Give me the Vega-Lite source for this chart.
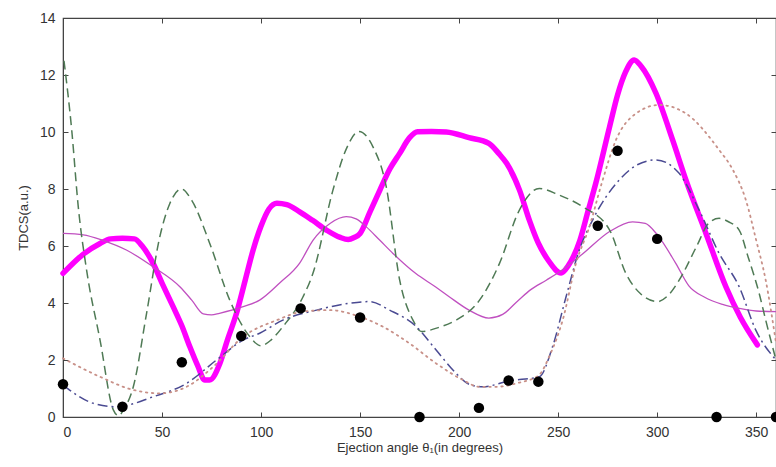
{
  "$schema": "https://vega.github.io/schema/vega-lite/v6.json",
  "width": 713,
  "height": 399,
  "autosize": "none",
  "padding": {"left": 63, "top": 18, "right": 0, "bottom": 50},
  "background": "white",
  "config": {
    "view": {"stroke": "#444", "strokeWidth": 1.2},
    "axis": {
      "grid": false,
      "domainColor": "#444",
      "tickColor": "#444",
      "labelColor": "#333",
      "titleColor": "#333",
      "labelFont": "Liberation Sans",
      "titleFont": "Liberation Sans",
      "labelFontSize": 14,
      "titleFontSize": 13,
      "titleFontWeight": "normal",
      "tickSize": -5
    }
  },
  "datasets": {
    "thick": [
      {"x":0,"y":5.04},{"x":10,"y":5.7},{"x":18.7,"y":6.09},{"x":24,"y":6.25},{"x":30,"y":6.27},{"x":36,"y":6.25},{"x":40,"y":6.0},{"x":45.5,"y":5.39},{"x":50,"y":4.7},{"x":55.6,"y":3.87},{"x":60,"y":3.2},{"x":64,"y":2.47},{"x":68,"y":1.8},{"x":71.6,"y":1.3},{"x":74,"y":1.3},{"x":79.2,"y":1.88},{"x":83,"y":2.7},{"x":87.6,"y":3.64},{"x":92,"y":4.8},{"x":96,"y":5.86},{"x":100,"y":6.7},{"x":104,"y":7.3},{"x":108,"y":7.5},{"x":113,"y":7.45},{"x":119.5,"y":7.2},{"x":126,"y":6.9},{"x":133,"y":6.56},{"x":140,"y":6.3},{"x":144,"y":6.23},{"x":147,"y":6.3},{"x":150,"y":6.44},{"x":155,"y":7.2},{"x":160,"y":7.96},{"x":165,"y":8.7},{"x":170,"y":9.25},{"x":175,"y":9.8},{"x":179,"y":10.01},{"x":186,"y":10.02},{"x":193.5,"y":10.0},{"x":205,"y":9.8},{"x":215,"y":9.6},{"x":220,"y":9.25},{"x":224,"y":8.9},{"x":230.5,"y":7.96},{"x":235.5,"y":6.9},{"x":240,"y":6.1},{"x":245,"y":5.5},{"x":251.5,"y":5.05},{"x":255,"y":5.3},{"x":261,"y":6.2},{"x":265,"y":7.2},{"x":269,"y":8.2},{"x":276,"y":10.19},{"x":280,"y":11.3},{"x":284,"y":12.1},{"x":288.4,"y":12.53},{"x":292,"y":12.3},{"x":299.4,"y":11.36},{"x":307.8,"y":9.72},{"x":314.5,"y":8.32},{"x":324.6,"y":6.45},{"x":334.7,"y":4.57},{"x":342,"y":3.5},{"x":350.6,"y":2.53}
    ],
    "thin": [
      {"x":0,"y":6.44},{"x":10.2,"y":6.39},{"x":20,"y":6.2},{"x":32,"y":5.86},{"x":45.5,"y":5.27},{"x":59,"y":4.57},{"x":65,"y":4.1},{"x":70.8,"y":3.62},{"x":75,"y":3.58},{"x":79,"y":3.64},{"x":91,"y":3.87},{"x":99.3,"y":4.1},{"x":109.4,"y":4.7},{"x":119.5,"y":5.4},{"x":126.2,"y":6.2},{"x":135,"y":6.8},{"x":143,"y":7.03},{"x":148,"y":6.95},{"x":153,"y":6.68},{"x":160,"y":6.2},{"x":166.6,"y":5.74},{"x":178,"y":5.04},{"x":188,"y":4.57},{"x":195,"y":4.22},{"x":205,"y":3.75},{"x":215,"y":3.47},{"x":222,"y":3.6},{"x":230,"y":4.1},{"x":236,"y":4.46},{"x":244,"y":4.8},{"x":252,"y":5.16},{"x":262,"y":5.7},{"x":275.8,"y":6.5},{"x":287.6,"y":6.85},{"x":294,"y":6.79},{"x":300,"y":6.4},{"x":309.4,"y":5.39},{"x":316,"y":4.6},{"x":324,"y":4.2},{"x":333,"y":3.95},{"x":341.4,"y":3.81},{"x":350,"y":3.72},{"x":360,"y":3.7}
    ],
    "green": [
      {"x":0.5,"y":12.5},{"x":4.4,"y":10.07},{"x":7.7,"y":7.38},{"x":11.9,"y":5.16},{"x":18.7,"y":2.7},{"x":25.4,"y":0.25},{"x":28,"y":0.05},{"x":31,"y":0.3},{"x":35.5,"y":1.06},{"x":42.2,"y":3.64},{"x":48.9,"y":6.33},{"x":54,"y":7.5},{"x":59.8,"y":8.0},{"x":65,"y":7.6},{"x":74.1,"y":6.09},{"x":84.2,"y":4.1},{"x":94.3,"y":2.82},{"x":99.9,"y":2.5},{"x":105,"y":2.7},{"x":111,"y":3.17},{"x":121.2,"y":4.22},{"x":126.2,"y":5.04},{"x":136.3,"y":7.96},{"x":143,"y":9.4},{"x":149.4,"y":10.02},{"x":156.5,"y":9.48},{"x":163.2,"y":8.08},{"x":170,"y":4.8},{"x":176.7,"y":3.4},{"x":180.9,"y":3.0},{"x":190,"y":3.15},{"x":198.5,"y":3.4},{"x":210.3,"y":4.1},{"x":220.4,"y":5.39},{"x":230,"y":7.2},{"x":240.5,"y":8.02},{"x":250,"y":7.8},{"x":262.4,"y":7.38},{"x":276,"y":6.56},{"x":284.2,"y":5.04},{"x":292,"y":4.3},{"x":300.2,"y":4.05},{"x":306,"y":4.3},{"x":311.1,"y":4.8},{"x":320,"y":6.0},{"x":326,"y":6.8},{"x":331.3,"y":6.97},{"x":336,"y":6.85},{"x":341.4,"y":6.56},{"x":346,"y":5.6},{"x":351.5,"y":4.34},{"x":354.8,"y":3.4},{"x":360,"y":2.0}
    ],
    "blue": [
      {"x":0,"y":1.12},{"x":15.3,"y":0.48},{"x":27,"y":0.36},{"x":45.5,"y":0.71},{"x":62.4,"y":1.18},{"x":77.5,"y":2.0},{"x":91,"y":2.7},{"x":99.3,"y":2.94},{"x":111,"y":3.4},{"x":128,"y":3.75},{"x":144.7,"y":3.99},{"x":154.8,"y":4.05},{"x":164.9,"y":3.75},{"x":178.4,"y":3.17},{"x":188.4,"y":2.35},{"x":198.5,"y":1.53},{"x":205,"y":1.15},{"x":212,"y":1.06},{"x":225.4,"y":1.27},{"x":240.5,"y":1.41},{"x":247.2,"y":2.47},{"x":254,"y":4.22},{"x":260.7,"y":5.86},{"x":267.4,"y":6.91},{"x":280.9,"y":8.32},{"x":290,"y":8.85},{"x":299.4,"y":9.02},{"x":311.1,"y":8.55},{"x":321.2,"y":7.26},{"x":331.3,"y":5.74},{"x":341.4,"y":4.57},{"x":349.8,"y":3.05},{"x":360,"y":2.0}
    ],
    "dotted": [
      {"x":0,"y":2.06},{"x":18.7,"y":1.41},{"x":35.5,"y":0.95},{"x":48.9,"y":0.83},{"x":62.4,"y":1.06},{"x":75.8,"y":1.76},{"x":91,"y":2.82},{"x":108,"y":3.4},{"x":121.2,"y":3.7},{"x":134.6,"y":3.75},{"x":149.8,"y":3.52},{"x":161.5,"y":3.17},{"x":175,"y":2.58},{"x":188.4,"y":1.88},{"x":201.9,"y":1.3},{"x":210,"y":1.06},{"x":218.7,"y":1.06},{"x":230,"y":1.2},{"x":240,"y":1.45},{"x":246,"y":2.2},{"x":252.3,"y":3.4},{"x":259,"y":5.39},{"x":265.8,"y":6.68},{"x":272,"y":8.2},{"x":279.2,"y":9.72},{"x":289.3,"y":10.65},{"x":301,"y":10.95},{"x":314.5,"y":10.65},{"x":331.3,"y":9.37},{"x":338,"y":8.7},{"x":344.8,"y":7.61},{"x":350,"y":6.2},{"x":354.8,"y":4.8},{"x":360,"y":2.6}
    ],
    "dots": [
      {"x":0,"y":1.15},{"x":30,"y":0.36},{"x":60,"y":1.92},{"x":90,"y":2.84},{"x":120,"y":3.81},{"x":150,"y":3.49},{"x":180,"y":0},{"x":210,"y":0.32},{"x":225,"y":1.28},{"x":240,"y":1.24},{"x":270,"y":6.71},{"x":280,"y":9.34},{"x":300,"y":6.25},{"x":330,"y":0},{"x":360,"y":0}
    ]
  },
  "resolve": {"axis": {"x": "independent", "y": "independent"}},
  "layer": [
    {
      "encoding": {
        "x": {"field": "x", "type": "quantitative", "scale": {"domain": [0, 360], "nice": false},
              "axis": {"orient": "bottom", "values": [0,50,100,150,200,250,300,350], "title": "Ejection angle θ₁(in degrees)", "labelPadding": 13, "titlePadding": 2}},
        "y": {"field": "y", "type": "quantitative", "scale": {"domain": [0, 14], "nice": false},
              "axis": {"orient": "left", "values": [0,2,4,6,8,10,12,14], "title": "TDCS(a.u.)", "labelPadding": 13, "titlePadding": 9}}
      },
      "layer": [
        {"data": {"name": "thick"}, "mark": {"type": "line", "color": "#FF00FF", "strokeWidth": 5.5, "interpolate": "monotone", "strokeCap": "round", "strokeJoin": "round"}},
        {"data": {"name": "thin"}, "mark": {"type": "line", "color": "#C050C0", "strokeWidth": 1.3, "interpolate": "monotone"}},
        {"data": {"name": "green"}, "mark": {"type": "line", "color": "#4F7A55", "strokeWidth": 1.5, "strokeDash": [9, 5], "interpolate": "monotone"}},
        {"data": {"name": "blue"}, "mark": {"type": "line", "color": "#4A4A92", "strokeWidth": 1.5, "strokeDash": [10, 4, 2, 4], "interpolate": "monotone"}},
        {"data": {"name": "dotted"}, "mark": {"type": "line", "color": "#C89088", "strokeWidth": 1.8, "strokeDash": [1.5, 4.5], "strokeCap": "round", "interpolate": "monotone"}}
      ]
    },
    {
      "data": {"name": "dots"},
      "mark": {"type": "point", "filled": true, "color": "black", "opacity": 1, "size": 110},
      "encoding": {
        "x": {"field": "x", "type": "quantitative", "axis": {"orient": "top", "values": [0,50,100,150,200,250,300,350], "labels": false, "title": null, "domain": false}},
        "y": {"field": "y", "type": "quantitative", "axis": {"orient": "right", "values": [0,2,4,6,8,10,12,14], "labels": false, "title": null, "domain": false}}
      }
    }
  ]
}
